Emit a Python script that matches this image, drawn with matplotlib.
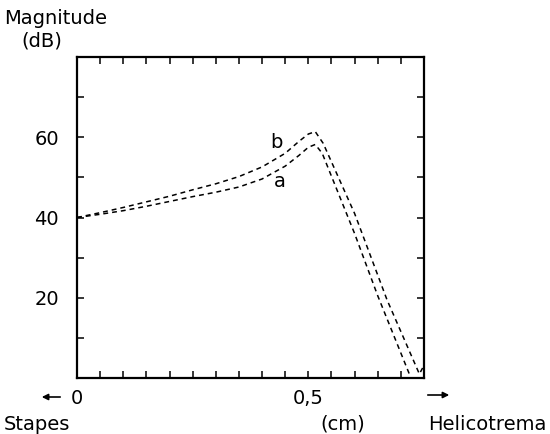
import matplotlib
matplotlib.use("Agg")
import matplotlib.pyplot as plt
from matplotlib.ticker import MultipleLocator, FixedLocator

# Data
x_a = [0, 0.05, 0.1, 0.15, 0.2, 0.25, 0.3, 0.35, 0.4, 0.45, 0.48, 0.5, 0.515, 0.53, 0.6, 0.65, 0.72]
y_a = [40, 40.8, 41.7, 42.8, 44, 45.2, 46.3, 47.6, 49.6, 52.8, 55.5, 57.5, 58.2, 56, 36, 20.5, 0.5]

x_b = [0, 0.05, 0.1, 0.15, 0.2, 0.25, 0.3, 0.35, 0.4, 0.45, 0.48, 0.5, 0.515, 0.532, 0.6, 0.67, 0.74, 0.747]
y_b = [40, 41.2, 42.5, 43.9, 45.3, 46.9, 48.4, 50.2, 52.6, 56, 59, 60.8, 61.4, 58.5, 41, 19.5, 1, 2.5]

y_ticks = [20, 40, 60]
y_ticklabels = ["20", "40", "60"]
x_ticks = [0, 0.5]
x_ticklabels = ["0", "0,5"]

W, H = 550, 434
fig = plt.figure(figsize=(W / 100, H / 100), dpi=100)
L, R, T, B = 77, 424, 57, 378
ax = fig.add_axes([L / W, 1 - B / H, (R - L) / W, (B - T) / H])

dash = (0, (3.2, 2.6))
ax.plot(x_a, y_a, color="black", lw=1.1, linestyle=dash)
ax.plot(x_b, y_b, color="black", lw=1.1, linestyle=dash)

ax.set_xlim(0, 0.75)
ax.set_ylim(0, 80)

ax.xaxis.set_major_locator(FixedLocator(x_ticks))
ax.set_xticklabels(x_ticklabels)
ax.xaxis.set_minor_locator(MultipleLocator(0.05))
ax.yaxis.set_major_locator(FixedLocator(y_ticks))
ax.set_yticklabels(y_ticklabels)
ax.yaxis.set_minor_locator(MultipleLocator(10))

ax.tick_params(which="both", direction="in", top=True, right=True,
               length=5, width=1.1, labelsize=14)
ax.tick_params(axis="y", which="major", pad=13)
ax.tick_params(axis="x", which="major", pad=8)
for s in ax.spines.values():
    s.set_linewidth(1.6)

ax.text(0.432, 58.7, "b", fontsize=14, ha="center", va="center")
ax.text(0.439, 49.0, "a", fontsize=14, ha="center", va="center")

def ft(xp, yp, s, ha="center", size=14):
    fig.text(xp / W, 1 - yp / H, s, ha=ha, va="center", fontsize=size)

ft(4, 18, "Magnitude", ha="left")
ft(42, 41, "(dB)")
ft(4, 424, "Stapes", ha="left")
ft(343, 424, "(cm)")
ft(546, 424, "Helicotrema", ha="right")

arrow = dict(arrowstyle="-|>", color="black", lw=1.2, mutation_scale=9)
fig.add_artist(plt.matplotlib.patches.FancyArrowPatch(
    (63, H - 397), (39, H - 397), transform=None, **arrow))
fig.add_artist(plt.matplotlib.patches.FancyArrowPatch(
    (425, H - 395), (452, H - 395), transform=None, **arrow))

fig.savefig("out.png", dpi=100)
